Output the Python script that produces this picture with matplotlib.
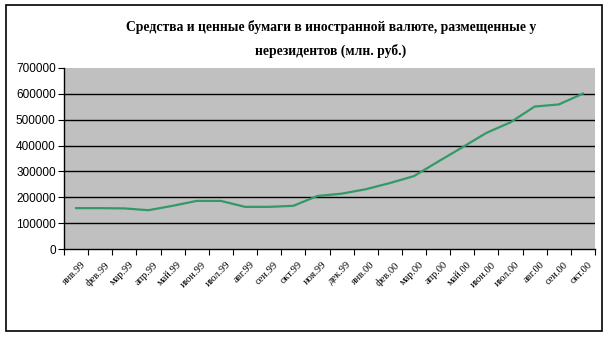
import numpy as np
import matplotlib
matplotlib.use("Agg")
import matplotlib.pyplot as plt
from matplotlib.patches import Rectangle

months = ["янв.99", "фев.99", "мар.99", "апр.99", "май.99", "июн.99",
          "июл.99", "авг.99", "сен.99", "окт.99", "ноя.99", "дек.99",
          "янв.00", "фев.00", "мар.00", "апр.00", "май.00", "июн.00",
          "июл.00", "авг.00", "сен.00", "окт.00"]
values = [158000, 158000, 157000, 150000, 167000, 186000,
          186000, 163000, 163000, 167000, 205000, 214000,
          231000, 255000, 282000, 338000, 393000, 449000,
          490000, 551000, 559000, 601000]
yticks = [0, 100000, 200000, 300000, 400000, 500000, 600000, 700000]

W, H = 609, 337
fig = plt.figure(figsize=(W / 100, H / 100), dpi=100)

# outer frame
fig.patches.append(Rectangle((5.5 / W, (H - 331) / H), (602 - 5.5) / W, (331 - 5) / H,
                             transform=fig.transFigure, fill=False,
                             edgecolor="black", linewidth=1.2))

ax = fig.add_axes([64 / W, (H - 249) / H, (595 - 64) / W, (249 - 68) / H])
ax.set_facecolor("#c0c0c0")

x = np.arange(len(months))
ax.plot(x, values, color="#339966", linewidth=1.6, zorder=3)

ax.set_xlim(-0.5, len(months) - 0.5)
ax.set_ylim(0, 700000)

for v in yticks[1:-1]:
    ax.axhline(v, color="black", linewidth=1, zorder=2)

ax.set_yticks(yticks)
ax.set_yticklabels([str(v) for v in yticks], fontsize=8.5, family="Liberation Sans")
ax.tick_params(axis="y", direction="out", length=4, width=0.8, pad=2)

ax.set_xticks(np.arange(len(months) + 1) - 0.5, minor=True)
ax.set_xticks(x + 0.2)
ax.set_xticklabels(months, rotation=45, ha="right", rotation_mode="anchor",
                   fontsize=7.5, family="Liberation Serif")
ax.tick_params(axis="x", which="major", length=0, pad=8)
ax.tick_params(axis="x", which="minor", direction="out", length=4, width=0.8)

for s in ["top", "right"]:
    ax.spines[s].set_visible(False)
ax.spines["left"].set_linewidth(1)
ax.spines["bottom"].set_linewidth(1)

fig.text(331 / W, (H - 39) / H,
         "Средства и ценные бумаги в иностранной валюте, размещенные у\nнерезидентов (млн. руб.)",
         ha="center", va="center", fontsize=9.8, fontweight="bold",
         family="Liberation Serif", linespacing=1.9)

fig.savefig("out.png", dpi=100)
